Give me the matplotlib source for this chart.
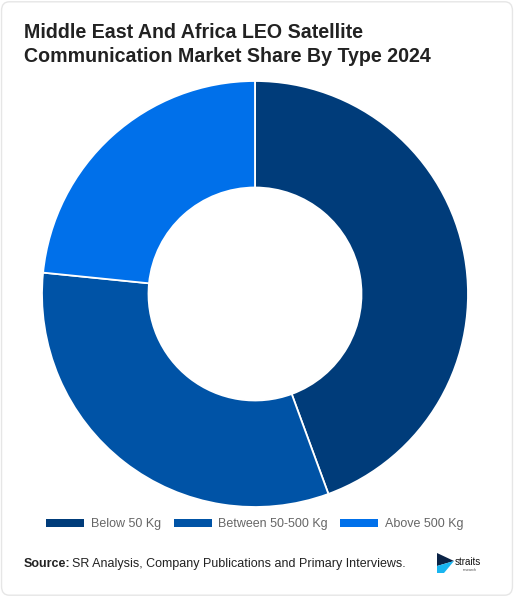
import matplotlib.pyplot as plt
from matplotlib.patches import FancyBboxPatch, Polygon

types = ['Below 50 Kg', 'Between 50-500 Kg', 'Above 500 Kg']
share = [44.4, 32.2, 23.4]
colors = ['#003c7a', '#0053a6', '#0070ea']

fig = plt.figure(figsize=(5.14, 5.97), dpi=100)
fig.patch.set_facecolor('white')
plt.rcParams['font.family'] = ['Liberation Sans', 'DejaVu Sans']

# card border
card = FancyBboxPatch((0.003, 0.003), 0.994, 0.994, boxstyle='round,pad=0,rounding_size=0.015',
                      transform=fig.transFigure, facecolor='white', edgecolor='#e6e6e6', lw=1,
                      zorder=-5)
fig.patches.append(card)

fig.text(24 / 514, 1 - 33 / 597, 'Middle East And Africa LEO Satellite', fontsize=14.1,
         color='#222222', fontweight='bold', va='center', ha='left')
fig.text(24 / 514, 1 - 57 / 597, 'Communication Market Share By Type 2024', fontsize=14.1,
         color='#222222', fontweight='bold', va='center', ha='left')

ax = fig.add_axes([42 / 514, 90 / 597, 426 / 514, 426 / 597])
wedges, _ = ax.pie(share, colors=colors, startangle=90, counterclock=False, radius=1,
                   wedgeprops=dict(width=0.5, edgecolor='white', linewidth=1.3))
ax.set_xlim(-1, 1)
ax.set_ylim(-1, 1)
ax.set_aspect('equal')
ax.axis('off')

leg = fig.legend(wedges, types, loc='center', bbox_to_anchor=(255 / 514, 1 - 524 / 597),
                 ncol=3, frameon=False, fontsize=9, handlelength=3.04, handleheight=0.6,
                 columnspacing=0.96, handletextpad=0.56, labelcolor='#666666')
for h in leg.legend_handles:
    h.set_edgecolor('none')

fig.text(24 / 514, 1 - 564 / 597, 'Source:', fontsize=9, color='#222222',
         fontweight='bold', va='center', ha='left')
fig.text(72 / 514, 1 - 564 / 597, 'SR Analysis, Company Publications and Primary Interviews.',
         fontsize=9, color='#222222', va='center', ha='left')

# logo
def px(x, y):
    return (x / 514, 1 - y / 597)

fig.patches.append(Polygon([px(437, 553), px(454, 561), px(437, 566)], closed=True,
                           transform=fig.transFigure, facecolor='#0b2346', edgecolor='none'))
fig.patches.append(Polygon([px(437, 566), px(454, 561), px(444, 573), px(437, 573)], closed=True,
                           transform=fig.transFigure, facecolor='#19b5f0', edgecolor='none'))
fig.text(455 / 514, 1 - 562 / 597, 'straits', fontsize=7, color='#111111', va='center', ha='left')
fig.text(470 / 514, 1 - 570 / 597, 'research', fontsize=2.5, color='#444444', va='center', ha='center')

fig.savefig('out.png', dpi=100, facecolor='white')
